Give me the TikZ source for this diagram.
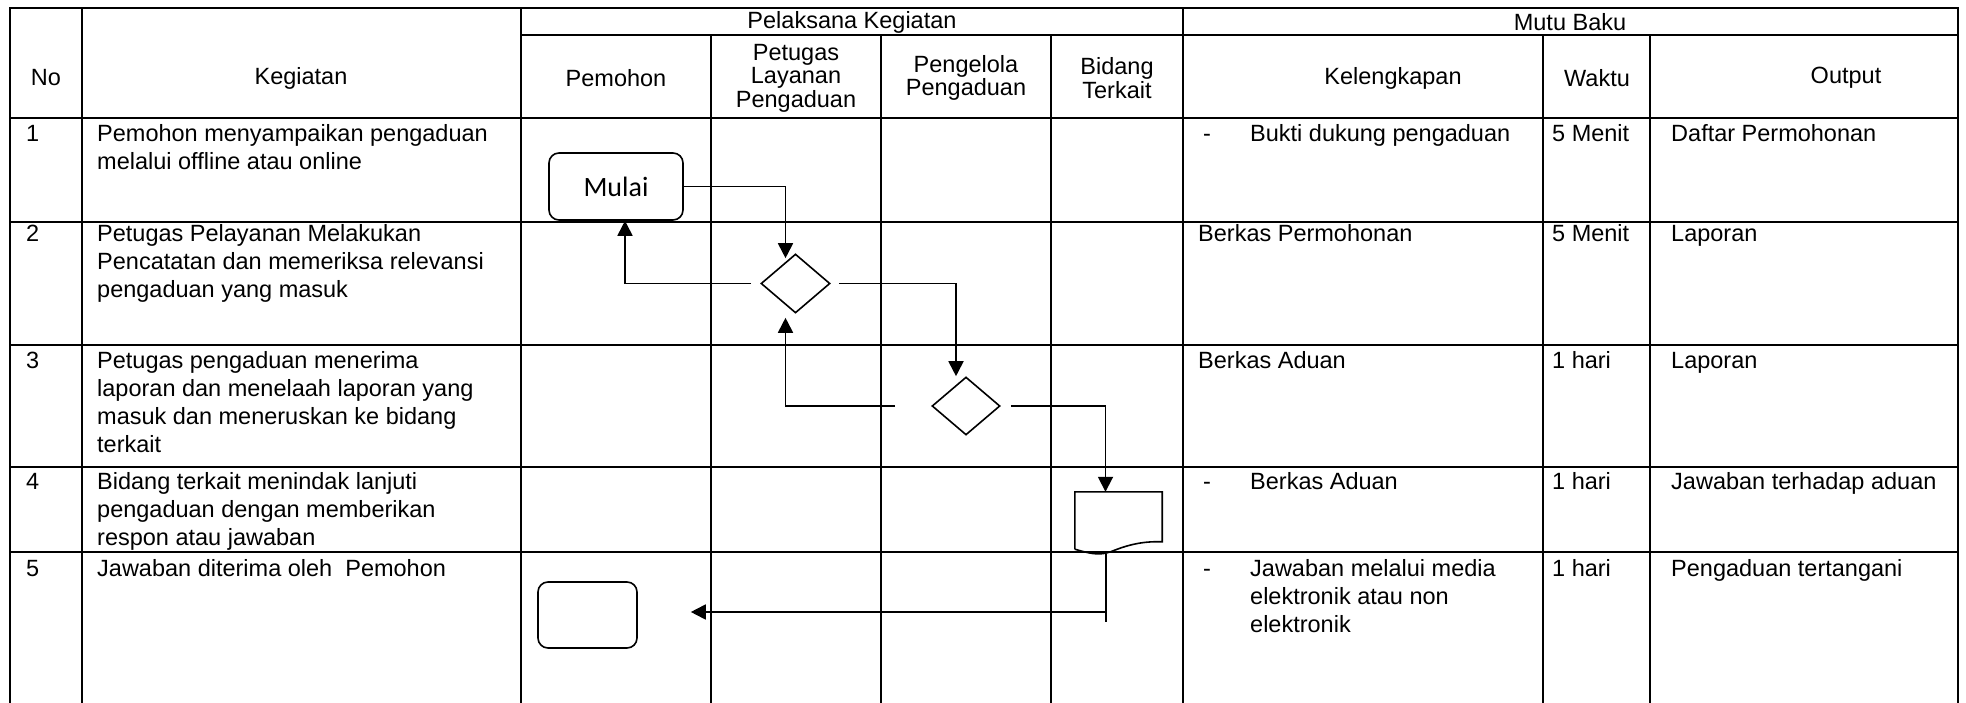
\documentclass[tikz,border=0pt]{standalone}
\usepackage{fontspec}
\setmainfont{Liberation Sans}
\newfontfamily\calib{Carlito}
\usetikzlibrary{shapes.geometric,arrows.meta,calc}
\newcommand{\mlines}[1]{\begin{tabular}[t]{@{}l@{}}#1\end{tabular}}
\begin{document}
\begin{tikzpicture}[x=1pt,y=-1pt,
  tline/.style={line width=2.4pt, line cap=rect},
  txt/.style={anchor=base west, inner sep=0pt, font=\fontsize{23.5}{28}\selectfont},
  hdr/.style={align=center, inner sep=0pt, font=\fontsize{23.5}{23.5}\selectfont},
  box/.style={draw, line width=1.6pt, rounded corners=10pt, inner sep=0pt},
  dia/.style={draw, diamond, line width=1.6pt, inner sep=0pt},
  conn/.style={line width=1.8pt},
  arr/.style={conn, -{Triangle[length=15pt,width=15pt]}}
]
\useasboundingbox (0,0) rectangle (1966,703);
% ---- table grid ----
\draw[tline] (10,8) -- (1958,8);
\draw[tline] (521,35) -- (1958,35);
\foreach \yy in {118,222,345,467,552} \draw[tline] (10,\yy) -- (1958,\yy);
\foreach \xx in {10,82,521,1183,1958} \draw[tline] (\xx,8) -- (\xx,703);
\foreach \xx in {711,881,1051,1543,1650} \draw[tline] (\xx,35) -- (\xx,703);
% ---- header ----
\node[hdr] (hno) at (46,78) {No};
\node[hdr] (hkeg) at (301,78) {Kegiatan};
\node[hdr] (hpel) at (852,22) {Pelaksana Kegiatan};
\node[hdr] (hmutu) at (1570,22) {Mutu Baku};
\node[hdr] (hpem) at (616,78) {Pemohon};
\node[hdr] (hpet) at (796,78) {Petugas\\Layanan\\Pengaduan};
\node[hdr] (hpeng) at (966,78) {Pengelola\\Pengaduan};
\node[hdr] (hbid) at (1117,78) {Bidang\\Terkait};
\node[hdr] (hkel) at (1393,78) {Kelengkapan};
\node[hdr] (hwak) at (1597,78) {Waktu};
\node[hdr] (hout) at (1846,78) {Output};
% ---- No column ----
\node[txt] (n1) at (26,142) {1};
\node[txt] (n2) at (26,242) {2};
\node[txt] (n3) at (26,369) {3};
\node[txt] (n4) at (26,489) {4};
\node[txt] (n5) at (26,576) {5};
% ---- Kegiatan ----
\node[txt] (k1) at (97,142) {\mlines{Pemohon menyampaikan pengaduan\\melalui offline atau online}};
\node[txt] (k2) at (97,242) {\mlines{Petugas Pelayanan Melakukan\\Pencatatan dan memeriksa relevansi\\pengaduan yang masuk}};
\node[txt] (k3) at (97,369) {\mlines{Petugas pengaduan menerima\\laporan dan menelaah laporan yang\\masuk dan meneruskan ke bidang\\terkait}};
\node[txt] (k4) at (97,489) {\mlines{Bidang terkait menindak lanjuti\\pengaduan dengan memberikan\\respon atau jawaban}};
\node[txt] (k5) at (97,576) {Jawaban diterima oleh\ \ Pemohon};
% ---- Kelengkapan ----
\node[txt] (l1d) at (1203,142) {-};
\node[txt] (l1) at (1250,142) {Bukti dukung pengaduan};
\node[txt] (l2) at (1198,242) {Berkas Permohonan};
\node[txt] (l3) at (1198,369) {Berkas Aduan};
\node[txt] (l4d) at (1203,489) {-};
\node[txt] (l4) at (1250,489) {Berkas Aduan};
\node[txt] (l5d) at (1203,576) {-};
\node[txt] (l5) at (1250,576) {\mlines{Jawaban melalui media\\elektronik atau non\\elektronik}};
% ---- Waktu ----
\node[txt] (w1) at (1552,142) {5 Menit};
\node[txt] (w2) at (1552,242) {5 Menit};
\node[txt] (w3) at (1552,369) {1 hari};
\node[txt] (w4) at (1552,489) {1 hari};
\node[txt] (w5) at (1552,576) {1 hari};
% ---- Output ----
\node[txt] (o1) at (1671,142) {Daftar Permohonan};
\node[txt] (o2) at (1671,242) {Laporan};
\node[txt] (o3) at (1671,369) {Laporan};
\node[txt] (o4) at (1671,489) {Jawaban terhadap aduan};
\node[txt] (o5) at (1671,576) {Pengaduan tertangani};
% ---- flow shapes ----
\node[box, minimum width=134pt, minimum height=67pt] (mulai) at (616,186.5) {\calib\fontsize{28}{28}\selectfont Mulai};
\node[dia, minimum width=69pt, minimum height=59pt] (d1) at (795.5,283.5) {};
\node[dia, minimum width=68pt, minimum height=58pt] (d2) at (966,406) {};
\node[minimum width=87pt, minimum height=57pt, inner sep=0pt] (doc) at (1118.5,520.5) {};
\draw[line width=1.6pt] (doc.south west) -- (doc.north west) -- (doc.north east) -- ($(doc.north east)+(0,50)$)
  .. controls (1140,541) and (1125,546) .. (1110,552) .. controls (1098,556) and (1088,553) .. (doc.south west);
\node[box, minimum width=99pt, minimum height=66pt] (endbox) at (587.5,615) {};
% ---- connectors ----
\draw[arr, shorten >=-5pt] (mulai.east) -| ($(d1.north)+(-10,0)$);
\draw[arr, shorten <=9pt] (d1.west) -| ($(mulai.south)+(9,0)$);
\draw[arr, shorten <=8pt] (d1.east) -| ($(d2.north)+(-10,0)$);
\draw[arr, shorten <=36pt, shorten >=4pt] (d2.west) -| ($(d1.south)+(-10,0)$);
\draw[arr, shorten <=10pt] (d2.east) -| ($(doc.north)+(-13,0)$);
\coordinate (j) at (1106,622);
\draw[conn] ($(doc.south)+(-12.5,5)$) -- (j);
\coordinate (k) at (1105,612);
\draw[arr, shorten >=53pt] (k) -- (k -| endbox.east);
\end{tikzpicture}
\end{document}
